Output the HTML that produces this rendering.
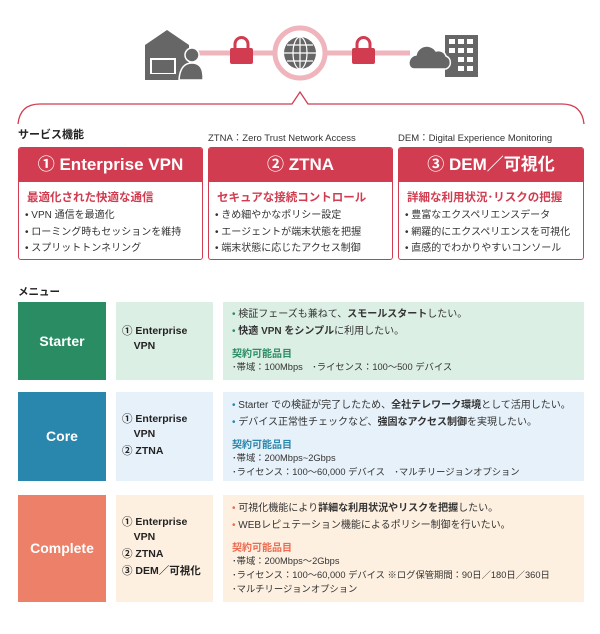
<!DOCTYPE html>
<html><head><meta charset="utf-8"><style>
*{margin:0;padding:0;box-sizing:border-box}
body{width:600px;height:634px;background:#fff;position:relative;font-family:"Liberation Sans","Noto Sans CJK JP",sans-serif;color:#333;overflow:hidden}
.a{position:absolute;white-space:nowrap}
.card{position:absolute;top:147px;height:113px;border:1.5px solid #d13c50;border-radius:3px;background:#fff;overflow:hidden}
.card .h{height:34px;background:#d13c50;color:#fff;font-weight:bold;font-size:17px;text-align:center;line-height:34px}
.card .s{color:#d13c50;font-weight:bold;font-size:11.5px;margin:7px 0 0 8px}
.card ul{list-style:none;font-size:10px;margin:3px 0 0 6px;line-height:16.5px}
.box{position:absolute}
.t{font-size:10px;line-height:17px}
.k{font-size:10px;font-weight:bold}
.d{font-size:9.3px;line-height:14px}
.c2{font-size:10.5px;font-weight:bold;color:#222;line-height:15px}
</style></head><body>
<svg class="a" style="left:0;top:0" width="600" height="140">
<line x1="195" y1="53" x2="410" y2="53" stroke="#f0b4bc" stroke-width="5"/>
<path d="M145 45 L167 30 L189 45 L189 80 L145 80Z" fill="#666"/>
<rect x="150" y="58" width="26" height="17" fill="#fff"/><rect x="152" y="60" width="22" height="13" fill="#666"/><rect x="146" y="74" width="34" height="5" fill="#666"/>
<circle cx="192" cy="55" r="7" fill="#666" stroke="#fff" stroke-width="1.5"/>
<path d="M179 80 Q180 63 192 63 Q204 63 203 80Z" fill="#666" stroke="#fff" stroke-width="1.5"/>
<g fill="#d13c50"><rect x="230" y="48" width="23" height="16" rx="2"/><path d="M235 48 v-4 a6.5 6.5 0 0 1 13 0 v4" fill="none" stroke="#d13c50" stroke-width="3"/>
<rect x="352" y="48" width="23" height="16" rx="2"/><path d="M357 48 v-4 a6.5 6.5 0 0 1 13 0 v4" fill="none" stroke="#d13c50" stroke-width="3"/></g>
<circle cx="300" cy="53" r="25" fill="#fff" stroke="#f0b4bc" stroke-width="5"/>
<circle cx="300" cy="53" r="16" fill="#666"/>
<g fill="none" stroke="#fff" stroke-width="1.2"><ellipse cx="300" cy="53" rx="7" ry="16"/><line x1="300" y1="37" x2="300" y2="69"/><line x1="284" y1="53" x2="316" y2="53"/><line x1="287" y1="45" x2="313" y2="45"/><line x1="287" y1="61" x2="313" y2="61"/></g>
<rect x="445" y="35" width="33" height="42" fill="#666"/>
<g fill="#fff"><rect x="449" y="39" width="6" height="5"/><rect x="458" y="39" width="6" height="5"/><rect x="467" y="39" width="6" height="5"/>
<rect x="449" y="48" width="6" height="5"/><rect x="458" y="48" width="6" height="5"/><rect x="467" y="48" width="6" height="5"/>
<rect x="458" y="57" width="6" height="5"/><rect x="467" y="57" width="6" height="5"/><rect x="458" y="66" width="6" height="5"/><rect x="467" y="66" width="6" height="5"/></g>
<path d="M410 67 a8 8 0 0 1 6-12 a11 11 0 0 1 20-4 a8 8 0 0 1 10 5 a7 7 0 0 1 0 13 H414 a5 5 0 0 1 -4 -2Z" fill="#666" stroke="#fff" stroke-width="1.5"/>
<path d="M18 124 Q20 104 40 104 H292 L300 92 L308 104 H562 Q582 104 584 124" fill="none" stroke="#d13c50" stroke-width="1.3"/>
</svg>
<div class="a" style="left:18px;top:126px;font-size:11px;font-weight:bold;color:#222">サービス機能</div>
<div class="a" style="left:208px;top:130px;font-size:9.5px">ZTNA：Zero Trust Network Access</div>
<div class="a" style="left:398px;top:130px;font-size:9.5px">DEM：Digital Experience Monitoring</div>
<div class="card" style="left:18px;width:185px"><div class="h">① Enterprise VPN</div><div class="s">最適化された快適な通信</div><ul><li>• VPN 通信を最適化</li><li>• ローミング時もセッションを維持</li><li>• スプリットトンネリング</li></ul></div>
<div class="card" style="left:208px;width:185px"><div class="h">② ZTNA</div><div class="s">セキュアな接続コントロール</div><ul><li>• きめ細やかなポリシー設定</li><li>• エージェントが端末状態を把握</li><li>• 端末状態に応じたアクセス制御</li></ul></div>
<div class="card" style="left:398px;width:186px"><div class="h">③ DEM／可視化</div><div class="s">詳細な利用状況･リスクの把握</div><ul><li>• 豊富なエクスペリエンスデータ</li><li>• 網羅的にエクスペリエンスを可視化</li><li>• 直感的でわかりやすいコンソール</li></ul></div>

<div class="a" style="left:18px;top:284px;font-size:10.5px;font-weight:bold;color:#222">メニュー</div>
<div class="box" style="left:18px;top:302px;width:88px;height:78px;background:#2a8c63;color:#fff;font-weight:bold;font-size:14px;text-align:center;line-height:78px">Starter</div>
<div class="box" style="left:116px;top:302px;width:97px;height:78px;background:#dcefe5"><div class="c2" style="margin:22px 0 0 6px">① Enterprise<br>&nbsp;&nbsp;&nbsp;&nbsp;VPN</div></div>
<div class="box" style="left:223px;top:302px;width:361px;height:78px;background:#dcefe5;padding:4px 0 0 9px">
<div class="t"><span style="color:#2a8c63">•</span> 検証フェーズも兼ねて、<b>スモールスタート</b>したい。</div>
<div class="t"><span style="color:#2a8c63">•</span> <b>快適 VPN をシンプル</b>に利用したい。</div>
<div class="k" style="color:#2a8c63;margin-top:5px">契約可能品目</div>
<div class="d">･帯域：100Mbps　･ライセンス：100～500 デバイス</div></div>
<div class="box" style="left:18px;top:392px;width:88px;height:89px;background:#2986ad;color:#fff;font-weight:bold;font-size:14px;text-align:center;line-height:89px">Core</div>
<div class="box" style="left:116px;top:392px;width:97px;height:89px;background:#e6f1fa"><div class="c2" style="margin:20px 0 0 6px">① Enterprise<br>&nbsp;&nbsp;&nbsp;&nbsp;VPN<div style="margin-top:2px">② ZTNA</div></div></div>
<div class="box" style="left:223px;top:392px;width:361px;height:89px;background:#e6f1fa;padding:5px 0 0 9px">
<div class="t"><span style="color:#2986ad">•</span> Starter での検証が完了したため、<b>全社テレワーク環境</b>として活用したい。</div>
<div class="t"><span style="color:#2986ad">•</span> デバイス正常性チェックなど、<b>強固なアクセス制御</b>を実現したい。</div>
<div class="k" style="color:#2986ad;margin-top:5px">契約可能品目</div>
<div class="d">･帯域：200Mbps~2Gbps<br>･ライセンス：100～60,000 デバイス　･マルチリージョンオプション</div></div>
<div class="box" style="left:18px;top:495px;width:88px;height:107px;background:#ec8069;color:#fff;font-weight:bold;font-size:14px;text-align:center;line-height:107px">Complete</div>
<div class="box" style="left:116px;top:495px;width:97px;height:107px;background:#fdf0e0"><div class="c2" style="margin:20px 0 0 6px">① Enterprise<br>&nbsp;&nbsp;&nbsp;&nbsp;VPN<div style="margin-top:2px">② ZTNA</div><div style="margin-top:2px">③ DEM／可視化</div></div></div>
<div class="box" style="left:223px;top:495px;width:361px;height:107px;background:#fdf0e0;padding:5px 0 0 9px">
<div class="t"><span style="color:#ec6a50">•</span> 可視化機能により<b>詳細な利用状況やリスクを把握</b>したい。</div>
<div class="t"><span style="color:#ec6a50">•</span> WEBレピュテーション機能によるポリシー制御を行いたい。</div>
<div class="k" style="color:#ec6a50;margin-top:5px">契約可能品目</div>
<div class="d">･帯域：200Mbps～2Gbps<br>･ライセンス：100～60,000 デバイス ※ログ保管期間：90日／180日／360日<br>･マルチリージョンオプション</div></div>
</body></html>
